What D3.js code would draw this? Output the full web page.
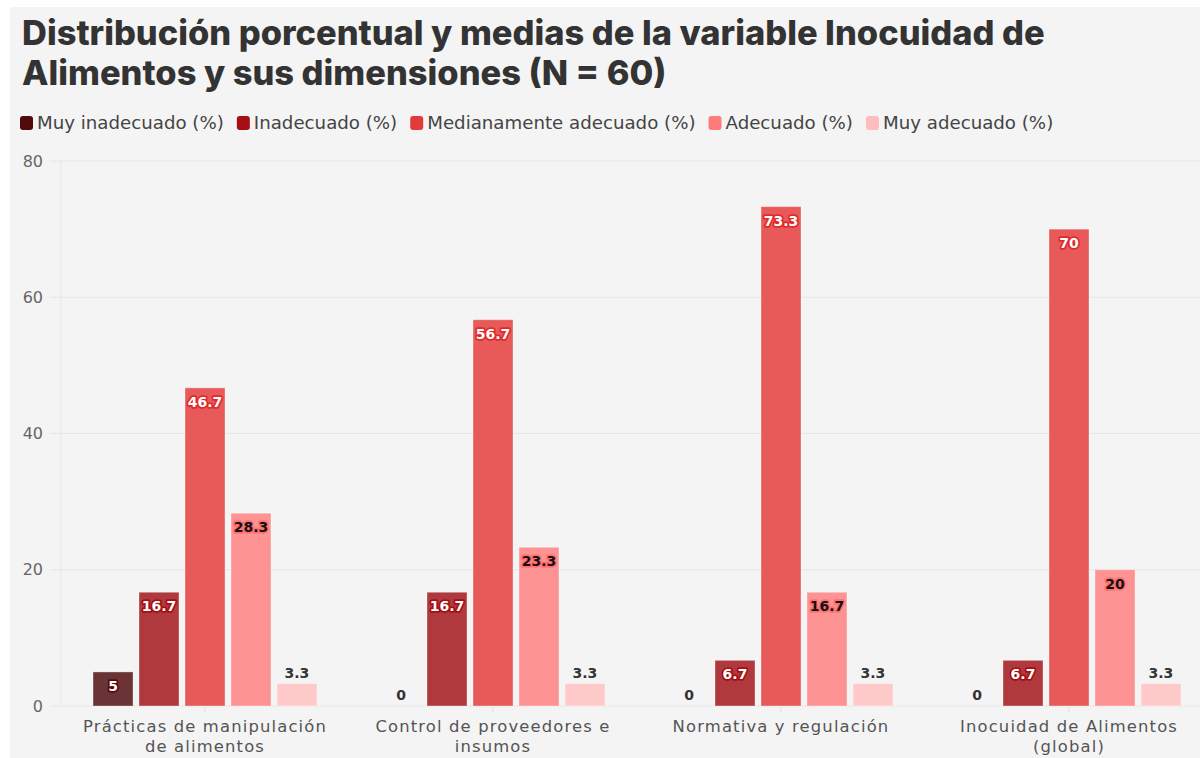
<!DOCTYPE html>
<html><head><meta charset="utf-8">
<script src="https://cdn.jsdelivr.net/npm/d3@7"></script>
<style>
body{margin:0;background:#fff;}
svg{display:block;}
</style></head>
<body>
<svg id="c" width="1200" height="758"></svg>
<script>
const categories = ["Prácticas de manipulación de alimentos","Control de proveedores e insumos","Normativa y regulación","Inocuidad de Alimentos (global)"];
const categoryLines = [["Prácticas de manipulación","de alimentos"],["Control de proveedores e","insumos"],["Normativa y regulación"],["Inocuidad de Alimentos","(global)"]];
const series = ["Muy inadecuado (%)","Inadecuado (%)","Medianamente adecuado (%)","Adecuado (%)","Muy adecuado (%)"];
const muyInadecuado = [5, 0, 0, 0];
const inadecuado = [16.7, 16.7, 6.7, 6.7];
const medianamente = [46.7, 56.7, 73.3, 70];
const adecuado = [28.3, 23.3, 16.7, 20];
const muyAdecuado = [3.3, 3.3, 3.3, 3.3];
const yTicks = [0, 20, 40, 60, 80];
const titleLines = ["Distribución porcentual y medias de la variable Inocuidad de","Alimentos y sus dimensiones (N = 60)"];

const seriesValues = [muyInadecuado, inadecuado, medianamente, adecuado, muyAdecuado];
const legendColors = ["#4f0a0c","#a50f15","#e23b3b","#ff7b7b","#ffbcbc"];
const barColors = ["#6a3436","#b0393d","#e85a5a","#fe9393","#ffcaca"];
const haloColors = ["#5a0a0c","#a50f15","#e02a2a","#ff7070",null];
const labelFill = ["#fff","#fff","#fff","#111","#333"];
const FONT = "'DejaVu Sans', sans-serif";

const svg = d3.select("#c");
svg.append("rect").attr("x",10).attr("y",7).attr("width",1190).attr("height",751).attr("fill","#f4f4f4");

function fitSize(text, family, weight, target, base){
  const p = svg.append("text").attr("font-family",family).attr("font-weight",weight).attr("font-size",base).text(text);
  const w = p.node().getComputedTextLength();
  p.remove();
  return base*target/w;
}

// title
const titleFs = fitSize(titleLines[0], "Inter, Roboto, sans-serif", 800, 1023, 32);
const title = svg.append("g");
titleLines.forEach((t,i)=>{
  title.append("text").attr("x",22).attr("y",45+i*40)
    .attr("font-family","Inter, Roboto, sans-serif").attr("font-weight",800)
    .attr("font-size",titleFs).attr("fill","#333").text(t);
});

// legend: reference spans x 20 -> 1054
const legend = svg.append("g");
const avail = 1054 - 20 - series.length*17 - (series.length-1)*13;
const legFs = fitSize(series.join(""), FONT, 400, avail, 16);
let lx = 20;
series.forEach((s,i)=>{
  legend.append("rect").attr("x",lx).attr("y",116).attr("width",13).attr("height",14).attr("rx",3).attr("fill",legendColors[i]);
  const tx = legend.append("text").attr("x",lx+17).attr("y",129)
    .attr("font-family",FONT).attr("font-size",legFs).attr("fill","#444").text(s);
  lx += 17 + tx.node().getComputedTextLength() + 13;
});

// scales
const y = d3.scaleLinear().domain([0,80]).range([706,161]);
const x0 = d3.scaleBand().domain(categories).range([61,1213]).padding(0);
const x1 = d3.scaleBand().domain(series).range([0,x0.bandwidth()]).paddingInner(0.13).paddingOuter(0.696);

// grid
const grid = svg.append("g");
grid.selectAll("line").data(yTicks).join("line")
  .attr("x1",50).attr("x2",1200).attr("y1",d=>y(d)).attr("y2",d=>y(d))
  .attr("stroke","#e6e6e6").attr("stroke-width",1);
svg.append("line").attr("x1",61).attr("x2",61).attr("y1",y(80)).attr("y2",y(0)).attr("stroke","#e6e6e6");

// y axis labels
const yAxis = d3.axisLeft(y).tickValues(yTicks).tickSize(0).tickPadding(0);
const ya = svg.append("g").attr("transform","translate(43,0)").call(yAxis);
ya.select(".domain").remove();
ya.selectAll("text").attr("font-family",FONT).attr("font-size",16).attr("fill","#666");

// x axis
const xAxis = d3.axisBottom(x0).tickSize(7).tickFormat("");
const xa = svg.append("g").attr("transform",`translate(0,${y(0)})`).call(xAxis);
xa.select(".domain").remove();
xa.selectAll(".tick line").attr("stroke","#e0e0e0");
const xFs = 16.4;
const probe = svg.append("text").attr("font-family",FONT).attr("font-size",xFs).text(categoryLines[0][0]);
const xLS = Math.max(0,(244 - probe.node().getComputedTextLength())/categoryLines[0][0].length);
probe.remove();
const xl = svg.append("g");
categories.forEach((c,i)=>{
  categoryLines[i].forEach((ln,j)=>{
    xl.append("text").attr("x",x0(c)+x0.bandwidth()/2).attr("y",732+j*20)
      .attr("text-anchor","middle").attr("font-family",FONT).attr("font-size",xFs)
      .attr("letter-spacing",xLS).attr("fill","#555").text(ln);
  });
});

// bars
const rows = [];
categories.forEach((c,ci)=>{
  series.forEach((s,si)=>rows.push({c, s, si, v: seriesValues[si][ci]}));
});
const bars = svg.append("g");
bars.selectAll("rect").data(rows.filter(d=>d.v>0)).join("rect")
  .attr("x",d=>x0(d.c)+x1(d.s)).attr("width",x1.bandwidth())
  .attr("y",d=>y(d.v)).attr("height",d=>y(0)-y(d.v))
  .attr("fill",d=>barColors[d.si])
  .attr("stroke","#ffffff").attr("stroke-opacity",0.35).attr("stroke-width",1);

// labels
const labels = svg.append("g").attr("font-family",FONT).attr("font-weight",700).attr("font-size",14).attr("text-anchor","middle");
rows.forEach(d=>{
  const h = y(0)-y(d.v);
  const inside = h > 25;
  const t = labels.append("text")
    .attr("x",x0(d.c)+x1(d.s)+x1.bandwidth()/2)
    .attr("y",inside ? y(d.v)+19 : y(d.v)-6)
    .text(d3.format("~g")(d.v));
  if(inside){
    t.attr("fill",labelFill[d.si]).attr("stroke",haloColors[d.si]).attr("stroke-width",3.5)
     .attr("stroke-linejoin","round").attr("paint-order","stroke");
  } else {
    t.attr("fill","#333");
  }
});
</script>
</body></html>
